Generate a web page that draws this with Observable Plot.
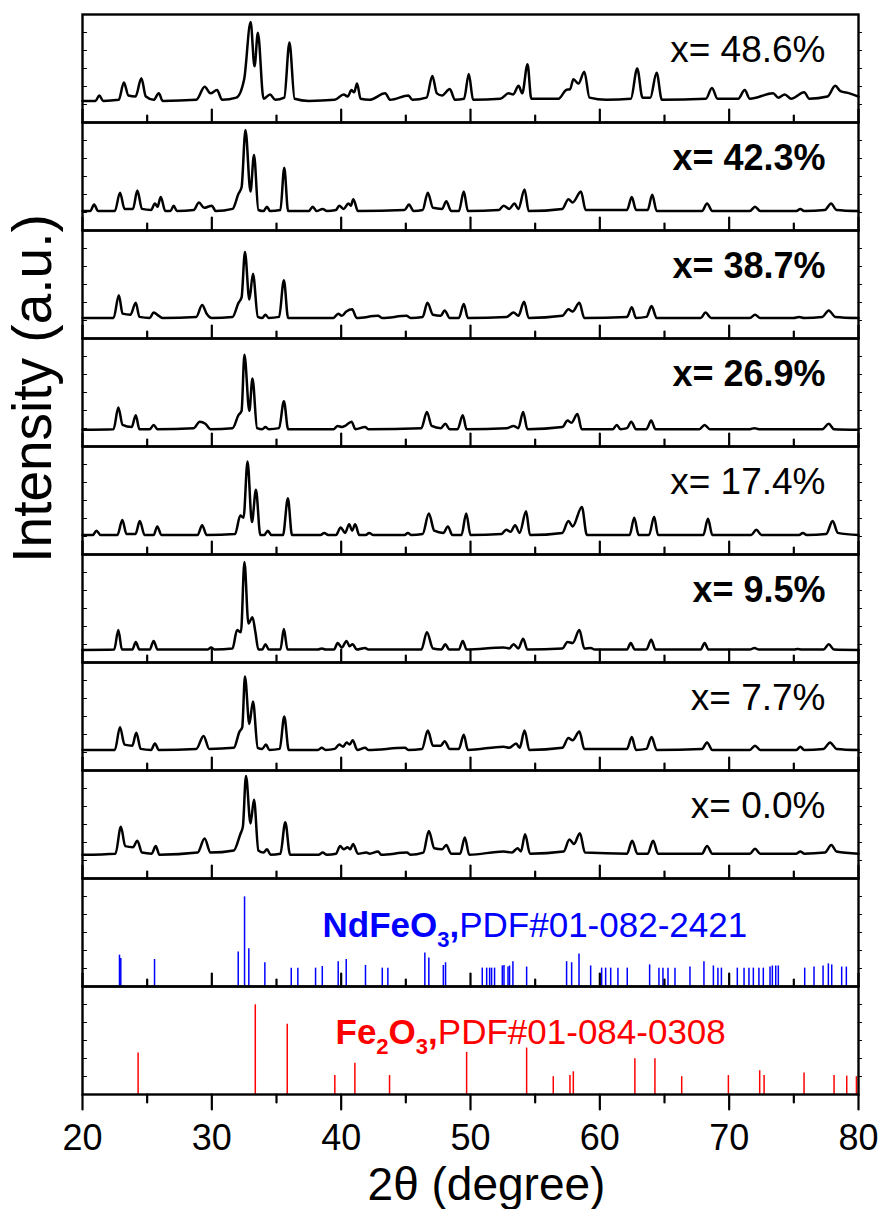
<!DOCTYPE html>
<html><head><meta charset="utf-8">
<script src="https://cdn.jsdelivr.net/npm/d3@7"></script>
<script src="https://cdn.jsdelivr.net/npm/@observablehq/plot@0.6"></script>
<style>
body{margin:0;background:#fff;}
#chart svg{display:block;}
</style>
</head><body><div id="chart"></div>
<script>
// ---------- data ----------
const samples = ["48.6","42.3","38.7","26.9","17.4","9.5","7.7","0.0"];
const boldSamples = ["42.3","38.7","26.9","9.5"];

// [2theta, intensity (percent of panel height)]
const s48_6 = [[20,20],[21.0,20],[21.3,25],[21.6,20],[22.8,21],[23.2,37],[23.55,25],[24.1,24],[24.55,41],[24.9,24],[25.5,21],[25.9,27],[26.2,20],[28.8,21],[29.45,33],[29.9,27],[30.4,30],[30.8,21],[31.9,23],[32.5,40],[33.0,93],[33.3,52],[33.56,83],[34.0,22],[34.5,26],[34.9,21],[35.6,23],[36.0,74],[36.4,22],[37.5,20],[39.5,21],[40.2,26],[40.5,24],[40.8,30],[41.0,28],[41.23,36],[41.5,22],[42.2,21],[43.4,27],[43.8,21],[45.2,25],[45.5,21],[46.6,23],[47.05,43],[47.4,27],[47.8,25],[48.4,31],[48.8,21],[49.5,22],[49.87,45],[50.2,21],[52.3,22],[52.95,27],[53.3,26],[53.72,34],[54.0,27],[54.41,54],[54.7,22],[56.8,22],[57.38,30],[57.7,31],[57.96,40],[58.35,36],[58.8,47],[59.2,23],[60.5,21],[62.4,22],[62.89,50],[63.3,23],[63.9,23],[64.39,46],[64.8,21],[68.2,22],[68.67,32],[69.1,22],[70.7,22],[71.2,30],[71.6,22],[73.4,27],[73.8,23],[74.3,26],[74.8,22],[75.8,28],[76.2,22],[77.6,24],[78.2,34],[78.6,29],[79.3,27],[80,24]];
const s42_3 = [[20,18],[20.6,18],[20.9,24],[21.2,18],[22.5,18],[22.9,35],[23.25,20],[23.9,20],[24.24,37],[24.6,20],[25.3,19],[25.6,25],[25.8,22],[26.05,31],[26.4,18],[26.8,18],[27.05,23],[27.3,18],[28.6,19],[29.0,26],[29.4,21],[30.0,23],[30.3,18],[31.6,20],[32.06,34],[32.3,40],[32.6,93],[32.99,36],[33.26,70],[33.6,19],[34.0,18],[34.26,22],[34.5,18],[35.3,19],[35.6,58],[35.9,18],[37.5,18],[37.8,22],[38.1,18],[38.57,20],[38.9,18],[39.6,19],[39.85,23],[40.2,20],[40.56,25],[40.75,23],[40.94,29],[41.3,18],[44.9,19],[45.24,24],[45.6,18],[46.3,19],[46.7,35],[47.1,21],[47.8,20],[48.13,27],[48.5,18],[49.1,18],[49.48,36],[49.8,18],[52.2,19],[52.56,23],[53.0,20],[53.4,25],[53.7,20],[54.18,38],[54.5,18],[57.1,20],[57.57,29],[57.9,26],[58.54,36],[58.9,19],[62.1,19],[62.47,31],[62.8,19],[63.7,19],[64.05,33],[64.4,18],[67.9,18],[68.29,25],[68.7,18],[71.6,18],[72.0,22],[72.4,18],[75.2,18],[75.5,20],[75.8,18],[77.4,19],[77.88,25],[78.3,19],[80,18]];
const s38_7 = [[20,19],[22.4,19],[22.81,40],[23.1,23],[23.7,22],[24.12,33],[24.4,20],[25.2,19],[25.5,24],[25.9,21],[26.2,19],[28.8,20],[29.25,31],[29.6,23],[30.0,19],[31.6,20],[32.06,33],[32.3,38],[32.56,80],[32.9,36],[33.18,60],[33.56,20],[33.9,19],[34.14,22],[34.4,19],[35.2,20],[35.57,54],[35.9,19],[39.4,19],[39.77,23],[40.05,21],[40.4,25],[40.85,27],[41.2,19],[42.85,21],[43.2,19],[45.05,21],[45.4,19],[46.3,20],[46.67,33],[47.1,22],[47.7,21],[48.0,26],[48.4,19],[49.1,19],[49.48,32],[49.8,19],[52.8,20],[53.33,24],[53.7,21],[54.14,34],[54.5,19],[57.1,21],[57.57,27],[57.9,25],[58.42,33],[58.8,19],[62.1,20],[62.47,29],[62.8,19],[63.6,20],[64.0,30],[64.4,19],[67.8,19],[68.17,24],[68.6,19],[71.6,19],[72.0,22],[72.4,19],[75.0,19],[75.4,20],[75.8,19],[77.2,20],[77.7,26],[78.2,20],[80,19]];
const s26_9 = [[20,15.5],[22.4,16],[22.77,36],[23.1,20],[23.8,18],[24.12,29],[24.4,16],[25.2,16],[25.5,20],[25.8,16],[28.6,17],[29.06,23],[29.5,21],[29.9,16],[31.6,17],[32.06,29],[32.3,33],[32.52,85],[32.9,33],[33.14,63],[33.5,17],[33.9,16],[34.14,18],[34.4,16],[35.2,17],[35.57,42],[35.9,16],[39.4,16],[39.73,19],[40.05,18],[40.3,19],[40.8,23],[41.1,16],[41.85,18],[42.1,16],[46.2,17],[46.63,32],[47.0,19],[47.7,17],[48.05,21],[48.4,16],[49.0,16],[49.4,29],[49.7,16],[52.8,17],[53.33,19],[53.7,17],[54.07,32],[54.4,16],[57.1,18],[57.5,24],[57.8,22],[58.27,30],[58.6,16],[61.0,16],[61.31,20],[61.6,16],[62.1,17],[62.43,23],[62.8,16],[63.6,16],[63.97,24],[64.3,16],[67.7,16],[68.1,20],[68.5,16],[71.6,16],[71.95,17],[72.3,16],[77.2,16],[77.7,21],[78.1,16],[80,15.5]];
const s17_4 = [[20,18],[20.8,18],[21.08,22],[21.4,18],[22.7,18],[23.08,32],[23.4,19],[24.1,19],[24.43,31],[24.8,18],[25.5,18],[25.78,26],[26.1,18],[28.9,18],[29.25,27],[29.6,18],[31.8,19],[32.2,36],[32.45,34],[32.76,86],[33.1,30],[33.41,60],[33.75,18],[34.05,18],[34.33,22],[34.6,18],[35.5,18],[35.88,52],[36.2,18],[38.4,18],[38.69,20],[39.0,18],[39.6,18],[39.96,25],[40.3,20],[40.62,28],[40.85,22],[41.08,28],[41.4,18],[41.9,18],[42.16,20],[42.5,18],[44.9,18],[45.16,20],[45.4,18],[46.3,19],[46.78,38],[47.2,22],[47.9,20],[48.25,26],[48.6,18],[49.3,18],[49.67,38],[50.0,18],[52.4,19],[52.76,23],[53.1,21],[53.45,27],[53.8,20],[54.3,40],[54.6,18],[57.1,20],[57.57,31],[57.9,26],[58.61,44],[59.0,18],[62.3,18],[62.66,34],[63.0,18],[63.8,18],[64.2,35],[64.5,18],[68.0,18],[68.36,33],[68.7,18],[71.7,18],[72.1,23],[72.5,18],[75.4,18],[75.7,20],[76.0,18],[77.5,19],[78.0,31],[78.4,20],[80,18]];
const s9_5 = [[20,11.6],[22.45,12],[22.77,30],[23.05,12],[23.85,12],[24.12,19],[24.4,12],[25.2,12],[25.5,20],[25.8,12],[29.7,12],[29.94,14],[30.2,12],[31.6,13],[31.95,30],[32.25,28],[32.52,93],[32.83,36],[33.14,42],[33.37,28],[33.6,12],[33.9,12],[34.14,17],[34.4,12],[35.3,12],[35.57,31],[35.85,12],[38.2,12],[38.5,13],[38.8,12],[39.45,12],[39.73,18],[40.05,14],[40.42,20],[40.65,15],[40.89,17],[41.2,12],[41.85,13.5],[42.1,12],[46.2,12],[46.63,28],[47.1,13],[47.75,12],[48.05,17],[48.35,12],[49.1,12],[49.4,20],[49.7,12],[52.56,14],[53.0,13],[53.33,17],[53.7,13],[54.07,22],[54.4,12],[57.1,13],[57.5,19],[57.9,18],[58.42,30],[58.8,13],[59.3,13.5],[59.6,12],[62.1,12],[62.39,18],[62.7,12],[63.6,12],[63.97,21],[64.3,12],[67.8,12],[68.1,18],[68.4,12],[71.6,12],[71.95,13.5],[72.3,12],[75.0,12],[75.3,12.5],[75.6,12],[77.3,12],[77.7,17],[78.1,12],[80,11.6]];
const s7_7 = [[20,19],[22.5,19],[22.9,40],[23.25,24],[23.85,23],[24.16,35],[24.5,20],[25.3,19],[25.6,25],[25.9,19],[28.8,20],[29.36,32],[29.8,20],[31.7,21],[32.14,36],[32.35,40],[32.56,87],[32.9,43],[33.18,64],[33.55,21],[33.9,20],[34.18,24],[34.45,19],[35.25,20],[35.6,50],[35.95,19],[38.2,19],[38.5,21],[38.8,19],[39.5,20],[39.85,24],[40.15,22],[40.42,26],[40.65,24],[40.89,28],[41.25,19],[41.85,21],[42.1,19],[44.93,21],[45.2,19],[46.25,20],[46.7,37],[47.1,23],[47.7,23],[48.0,27],[48.4,20],[49.1,20],[49.48,33],[49.8,19],[52.56,22],[53.0,21],[53.53,25],[53.8,21],[54.18,37],[54.55,19],[57.1,21],[57.57,30],[57.9,28],[58.42,36],[58.8,20],[62.1,20],[62.47,31],[62.8,19],[63.6,20],[64.0,31],[64.4,19],[67.9,20],[68.29,26],[68.7,19],[71.6,19],[72.0,23],[72.4,19],[75.2,19],[75.5,22],[75.8,19],[77.3,20],[77.8,26],[78.3,20],[80,19]];
const s0_0 = [[20,22],[22.55,23],[22.97,48],[23.3,30],[23.9,29],[24.24,35],[24.6,24],[25.35,23],[25.66,30],[25.95,22],[28.9,24],[29.44,37],[29.9,24],[31.7,26],[32.2,41],[32.4,48],[32.64,95],[32.99,51],[33.26,73],[33.6,26],[34.0,24],[34.26,27],[34.55,22],[35.3,23],[35.68,52],[36.05,22],[38.25,22],[38.57,24],[38.9,22],[39.6,23],[39.92,30],[40.2,27],[40.5,29],[40.7,27],[40.92,32],[41.3,23],[41.96,24],[42.2,23],[42.85,25],[43.1,22],[45.09,24],[45.35,22],[46.35,24],[46.78,44],[47.2,28],[47.8,27],[48.13,31],[48.5,23],[49.2,23],[49.56,38],[49.9,22],[52.56,25],[53.2,24],[53.64,28],[53.9,25],[54.22,41],[54.6,23],[57.2,25],[57.65,36],[58.0,32],[58.46,42],[58.85,24],[62.1,23],[62.5,35],[62.9,23],[63.7,23],[64.12,35],[64.5,23],[67.9,23],[68.29,30],[68.7,23],[71.6,23],[72.0,27.5],[72.4,23],[75.2,23],[75.5,25],[75.8,23],[77.4,24],[77.9,31],[78.3,25],[80,23]];
const sampleSeries = [s48_6, s42_3, s38_7, s26_9, s17_4, s9_5, s7_7, s0_0];

// reference patterns (stick positions in degrees, intensities in percent of panel height)
const ndfeo3Label = "NdFeO3,PDF#01-082-2421";
const ndfeo3Pos = [22.86,22.96,25.57,32.04,32.53,32.86,34.1,36.14,36.65,38.02,38.54,39.77,40.39,41.88,43.18,43.61,46.47,46.78,47.9,48.07,50.91,51.25,51.48,51.63,51.86,52.46,52.59,52.9,53.02,53.28,54.34,57.43,57.82,58.39,59.29,60.14,60.45,60.84,61.4,62.12,63.85,64.57,64.88,65.27,65.81,66.97,68.05,68.78,69.13,69.4,70.63,71.15,71.53,71.87,72.3,72.64,73.16,73.34,73.6,73.8,75.84,76.56,77.26,77.67,77.93,78.7,79.06];
const ndfeo3Int = [29,26,25,32,83,35,22,17,17,17,18.5,23,25,19.5,17,17,31,26.5,19.5,22,17,17,17,17,17,19,19.5,18,19,23,18,23,22,30,19,17,17,17,17,17,20,17,17,17,17,18,23,19,17,17,17,17,17,17,17,17,18,19,19,19,17,18,19,21,20,18,18];
const fe2o3Label = "Fe2O3,PDF#01-084-0308";
const fe2o3Pos = [24.3,33.36,35.83,39.51,41.06,43.74,49.7,54.34,56.4,57.69,57.95,62.71,64.26,66.33,69.94,72.36,72.7,75.79,78.11,79.09,79.84];
const fe2o3Int = [38.5,83,65,17.5,29,17.5,39,43,16.5,17.5,21,33,33,16.5,17.5,22,17.5,20,17.5,17,16.5];

const xMajor = [20,30,40,50,60,70,80];
const xMinor = [25,35,45,55,65,75];
const xTitle = "2θ (degree)";
const yTitle = "Intensity (a.u.)";

// ---------- tables ----------
const panels = [...samples, "NdFeO3", "Fe2O3"];
const rows = samples.flatMap((s, i) => sampleSeries[i].map(([t, v]) => ({panel: s, t, v})));
const ndSticks = ndfeo3Pos.map((t, i) => ({panel: "NdFeO3", t, v: ndfeo3Int[i]}));
const feSticks = fe2o3Pos.map((t, i) => ({panel: "Fe2O3", t, v: fe2o3Int[i]}));
const innerPanels = panels.slice(0, -1);
const majIn = innerPanels.flatMap(p => xMajor.map(t => ({panel: p, t})));
const minIn = innerPanels.flatMap(p => xMinor.map(t => ({panel: p, t})));
const majOut = xMajor.map(t => ({panel: "Fe2O3", t}));
const minOut = xMinor.map(t => ({panel: "Fe2O3", t}));
const yTickVals = d3.range(1, 6).map(k => k * 100 / 6);
const yTicks = panels.flatMap(p => yTickVals.map(v => ({panel: p, v})));

const tickShape = {draw(ctx, l) { ctx.moveTo(0, 0); ctx.lineTo(0, -l); }};
const blue = "#0000ff", red = "#ff0000";

const plot = Plot.plot({
  width: 883, height: 1209,
  marginTop: 12, marginLeft: 82, marginRight: 25, marginBottom: 114,
  style: {fontFamily: "'Liberation Sans', Arial, sans-serif", background: "white"},
  x: {domain: [20, 80], axis: null},
  y: {domain: [0, 100], axis: null},
  fy: {domain: panels, padding: 0, axis: null},
  marks: [
    Plot.ruleX(ndSticks, {x: "t", y1: 0, y2: "v", fy: "panel", stroke: blue, strokeWidth: 1.5}),
    Plot.ruleX(feSticks, {x: "t", y1: 0, y2: "v", fy: "panel", stroke: red, strokeWidth: 1.5}),
    Plot.line(rows, {x: "t", y: "v", fy: "panel", z: "panel", curve: "monotone-x", stroke: "black", strokeWidth: 2.5, strokeLinejoin: "round"}),
    // inward x ticks
    Plot.vector(majIn, {x: "t", fy: "panel", frameAnchor: "bottom", length: 13, rotate: 0, anchor: "start", shape: tickShape, stroke: "black", strokeWidth: 2.2}),
    Plot.vector(minIn, {x: "t", fy: "panel", frameAnchor: "bottom", length: 7, rotate: 0, anchor: "start", shape: tickShape, stroke: "black", strokeWidth: 2.2}),
    // outward ticks on bottom panel
    Plot.vector(majOut, {x: "t", fy: "panel", frameAnchor: "bottom", length: 15, rotate: 180, anchor: "start", shape: tickShape, stroke: "black", strokeWidth: 2.2}),
    Plot.vector(minOut, {x: "t", fy: "panel", frameAnchor: "bottom", length: 8, rotate: 180, anchor: "start", shape: tickShape, stroke: "black", strokeWidth: 2.2}),
    // small y ticks
    Plot.vector(yTicks, {y: "v", fy: "panel", frameAnchor: "left", length: 4, rotate: 90, anchor: "start", shape: tickShape, stroke: "black", strokeWidth: 1.2}),
    Plot.vector(yTicks, {y: "v", fy: "panel", frameAnchor: "right", length: 3, rotate: 90, anchor: "start", shape: tickShape, stroke: "black", strokeWidth: 1.2}),
    Plot.frame({stroke: "black", strokeWidth: 2.4}),
    // sample labels
    Plot.text(samples.filter(s => !boldSamples.includes(s)), {fy: d => d, text: d => `x= ${d}%`, frameAnchor: "top-right", dx: -33, dy: 36, textAnchor: "end", lineAnchor: "middle", fontSize: 37, fill: "black"}),
    Plot.text(samples.filter(s => boldSamples.includes(s)), {fy: d => d, text: d => `x= ${d}%`, frameAnchor: "top-right", dx: -33, dy: 36, textAnchor: "end", lineAnchor: "middle", fontSize: 36, fontWeight: "bold", fill: "black"}),
    // reference labels
    Plot.text([ndfeo3Label], {fy: () => "NdFeO3", text: d => d, frameAnchor: "top-left", dx: 240, dy: 47, textAnchor: "start", lineAnchor: "middle", fontSize: 35, fill: blue}),
    Plot.text([fe2o3Label], {fy: () => "Fe2O3", text: d => d, frameAnchor: "top-left", dx: 253, dy: 46, textAnchor: "start", lineAnchor: "middle", fontSize: 35, fill: red}),
    // x tick labels and titles
    Plot.text(xMajor, {x: d => d, fy: () => "Fe2O3", text: d => String(d), frameAnchor: "bottom", dy: 44, lineAnchor: "middle", fontSize: 36, fill: "black"}),
    Plot.text([xTitle], {fy: () => "Fe2O3", text: d => d, frameAnchor: "bottom", dx: 16, dy: 91, textAnchor: "middle", lineAnchor: "middle", fontSize: 46, fill: "black"}),
    Plot.text([yTitle], {fy: () => "26.9", text: d => d, frameAnchor: "left", dx: -49, dy: -4, rotate: -90, textAnchor: "middle", lineAnchor: "middle", fontSize: 55, fill: "black"})
  ]
});

// rich text: bold formula with subscripts, regular PDF number
const rich = {
  [ndfeo3Label]: [["NdFeO", "b"], ["3", "sub"], [",", "b"], ["PDF#01-082-2421", ""]],
  [fe2o3Label]: [["Fe", "b"], ["2", "sub"], ["O", "b"], ["3", "sub"], [",", "b"], ["PDF#01-084-0308", ""]]
};
d3.select(plot).selectAll("text").each(function () {
  const parts = rich[this.textContent];
  if (!parts) return;
  const sel = d3.select(this);
  sel.text(null);
  let shifted = false;
  for (const [txt, kind] of parts) {
    const ts = sel.append("tspan").text(txt);
    if (kind === "b" || kind === "sub") ts.attr("font-weight", "bold");
    if (kind === "sub") {
      ts.attr("font-size", "22px");
      if (!shifted) { ts.attr("dy", 10); shifted = true; }
    } else if (shifted) {
      ts.attr("dy", -10); shifted = false;
    }
  }
});

document.getElementById("chart").appendChild(plot);
</script>
</body></html>
